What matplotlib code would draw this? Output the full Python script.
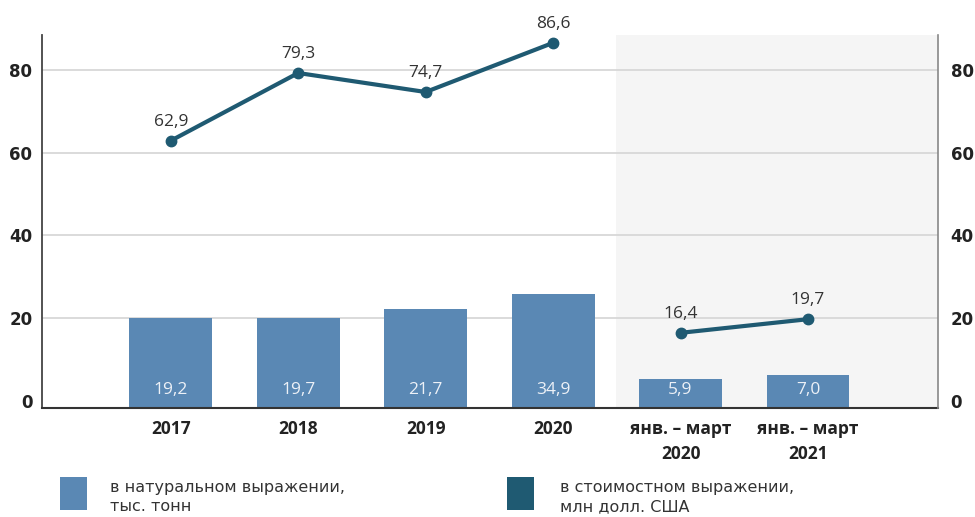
import matplotlib
matplotlib.use("Agg")
import matplotlib.pyplot as plt
from matplotlib.patches import Rectangle

categories = ["2017", "2018", "2019", "2020", "янв. – март\n2020", "янв. – март\n2021"]
bar_heights = [20.0, 20.0, 22.2, 25.8, 5.3, 6.3]          # as drawn in the picture
bar_labels = ["19,2", "19,7", "21,7", "34,9", "5,9", "7,0"]
line_annual = [62.9, 79.3, 74.7, 86.6]
line_annual_labels = ["62,9", "79,3", "74,7", "86,6"]
line_q1 = [16.4, 19.7]
line_q1_labels = ["16,4", "19,7"]
yticks = [0, 20, 40, 60, 80]
legend_labels = ["в натуральном выражении,\nтыс. тонн", "в стоимостном выражении,\nмлн долл. США"]

BAR_C = "#5a88b4"
LINE_C = "#1f5a72"
TXT = "#222222"
plt.rcParams["font.family"] = ["Open Sans", "DejaVu Sans"]

fig = plt.figure(figsize=(9.75, 5.17), dpi=100)
ax = fig.add_axes([42/975, 1-408/517, (938-42)/975, (408-35)/517])
ymin, ymax = -1.8, 88.5
xmin, xmax = -1.01, 6.02
ax.set_ylim(ymin, ymax)
ax.set_xlim(xmin, xmax)

# shaded region for quarterly data
ax.axvspan(3.49, xmax, color="#f5f5f5", zorder=0, lw=0)

for t in yticks[1:]:
    ax.axhline(t, color="#d8d8d8", lw=1.3, zorder=1)

x = list(range(len(categories)))
ax.bar(x, [h - ymin for h in bar_heights], bottom=ymin, width=0.65, color=BAR_C, zorder=2)
for xi, lab in zip(x, bar_labels):
    ax.text(xi, 2.5, lab, ha="center", va="center", color="#edf1f7", fontsize=12.5, zorder=4)

xa = x[:4]
ax.plot(xa, line_annual, color=LINE_C, lw=3, marker="o", ms=7.5, zorder=3, solid_capstyle="round")
for xi, v, lab in zip(xa, line_annual, line_annual_labels):
    ax.text(xi, v + 2.6, lab, ha="center", va="bottom", color="#333333", fontsize=12.5, zorder=4)
xq = x[4:]
ax.plot(xq, line_q1, color=LINE_C, lw=3, marker="o", ms=7.5, zorder=3, solid_capstyle="round")
for xi, v, lab in zip(xq, line_q1, line_q1_labels):
    ax.text(xi, v + 2.6, lab, ha="center", va="bottom", color="#333333", fontsize=12.5, zorder=4)

ax.set_yticks(yticks)
ax.set_yticklabels([str(t) for t in yticks], fontsize=12, fontweight="bold", color=TXT,
                   family=["DejaVu Sans"])
ax.tick_params(axis="y", length=0, pad=7)
ax.set_xticks(x)
ax.set_xticklabels(categories, fontsize=12.5, fontweight="bold", color=TXT, linespacing=1.45)
ax.tick_params(axis="x", length=0, pad=9)

ax.spines["top"].set_visible(False)
ax.spines["right"].set_visible(False)
ax.spines["left"].set_color("#444444")
ax.spines["left"].set_linewidth(1.3)
ax.spines["bottom"].set_color("#333333")
ax.spines["bottom"].set_linewidth(1.5)

ax2 = ax.twinx()
ax2.set_ylim(ymin, ymax)
ax2.set_yticks(yticks)
ax2.set_yticklabels([str(t) for t in yticks], fontsize=12, fontweight="bold", color=TXT,
                    family=["DejaVu Sans"])
ax2.tick_params(axis="y", length=0, pad=9)
for s in ["top", "left", "bottom"]:
    ax2.spines[s].set_visible(False)
ax2.spines["right"].set_color("#888888")
ax2.spines["right"].set_linewidth(1.2)

# legend
fig.patches.append(Rectangle((60/975, 1-510/517), 27/975, 33/517, transform=fig.transFigure,
                             color=BAR_C, lw=0))
fig.patches.append(Rectangle((507/975, 1-510/517), 27/975, 33/517, transform=fig.transFigure,
                             color=LINE_C, lw=0))
fig.text(110/975, 1-497/517, legend_labels[0], ha="left", va="center", fontsize=11.5,
         color="#333333", linespacing=1.4, family=["DejaVu Sans"])
fig.text(560/975, 1-497/517, legend_labels[1], ha="left", va="center", fontsize=11.5,
         color="#333333", linespacing=1.4, family=["DejaVu Sans"])

fig.savefig("out.png", dpi=100)
